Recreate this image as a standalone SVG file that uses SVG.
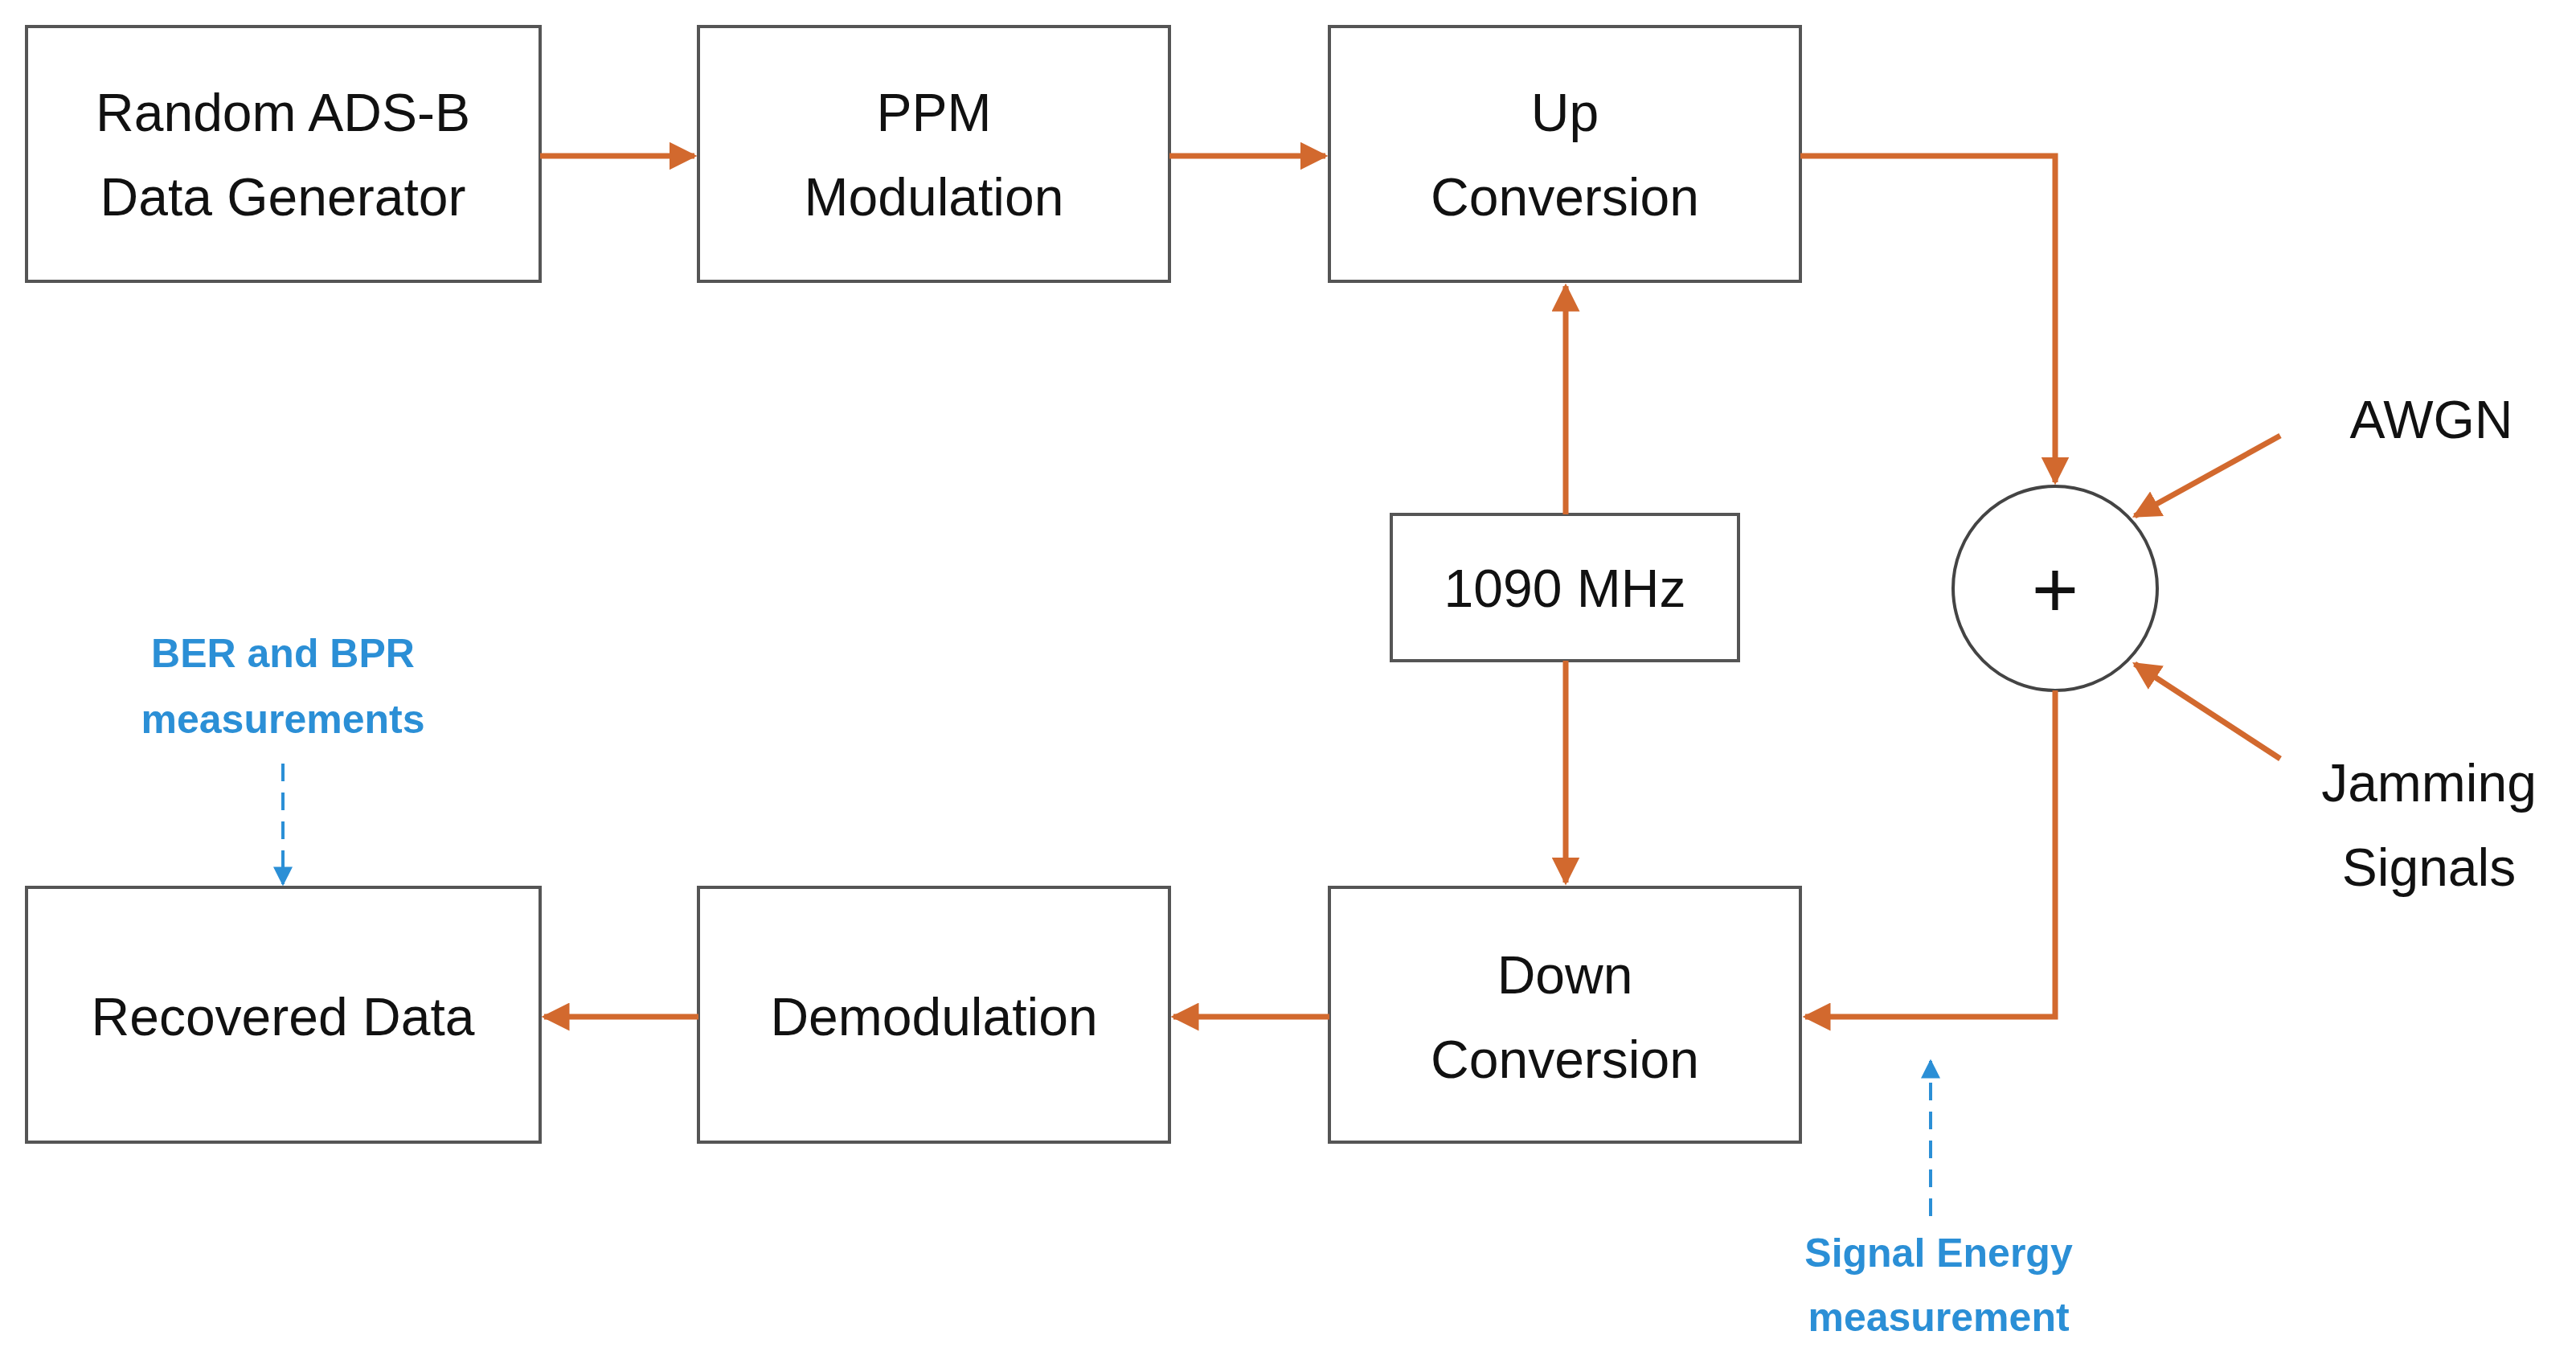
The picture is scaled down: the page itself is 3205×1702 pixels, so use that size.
<svg xmlns="http://www.w3.org/2000/svg" width="3205" height="1702" viewBox="0 0 3205 1702">
<style>
.box{fill:#fff;stroke:#555;stroke-width:4}
.t{font-family:"Liberation Sans",Arial,sans-serif;font-size:66px;fill:#111;text-anchor:middle}
.b{font-family:"Liberation Sans",Arial,sans-serif;font-size:50px;font-weight:bold;fill:#2b8fd6;text-anchor:middle}
.c{fill:none;stroke:#d2692e;stroke-width:7}
.d{fill:none;stroke:#2b8fd6;stroke-width:4;stroke-dasharray:22 14}
</style>
<defs>
<marker id="a" viewBox="0 0 10 10" refX="9" refY="5" markerWidth="5" markerHeight="5" orient="auto-start-reverse" markerUnits="strokeWidth"><path d="M0,0L10,5L0,10z" fill="#d2692e"/></marker>
<marker id="ab" viewBox="0 0 10 10" refX="9" refY="5" markerWidth="6" markerHeight="6" orient="auto" markerUnits="strokeWidth"><path d="M0,0L10,5L0,10z" fill="#2b8fd6"/></marker>
</defs>
<g id="n1"><rect class="box" x="33" y="33" width="639" height="317"/><text class="t" x="352" y="163">Random ADS-B</text><text class="t" x="352" y="268">Data Generator</text></g>
<g id="n2"><rect class="box" x="869" y="33" width="586" height="317"/><text class="t" x="1162" y="163">PPM</text><text class="t" x="1162" y="268">Modulation</text></g>
<g id="n3"><rect class="box" x="1654" y="33" width="586" height="317"/><text class="t" x="1947" y="163">Up</text><text class="t" x="1947" y="268">Conversion</text></g>
<g id="n4"><rect class="box" x="1731" y="640" width="432" height="182"/><text class="t" x="1947" y="755">1090 MHz</text></g>
<g id="n5"><circle cx="2557" cy="732" r="127" fill="#fff" stroke="#444" stroke-width="4"/><text x="2557" y="768" font-family="Liberation Sans,sans-serif" font-size="100" text-anchor="middle" fill="#111">+</text></g>
<g id="n6"><rect class="box" x="1654" y="1104" width="586" height="317"/><text class="t" x="1947" y="1236">Down</text><text class="t" x="1947" y="1341">Conversion</text></g>
<g id="n7"><rect class="box" x="869" y="1104" width="586" height="317"/><text class="t" x="1162" y="1288">Demodulation</text></g>
<g id="n8"><rect class="box" x="33" y="1104" width="639" height="317"/><text class="t" x="352" y="1288">Recovered Data</text></g>
<g id="l1"><text class="t" x="3025" y="545">AWGN</text></g>
<g id="l2"><text class="t" x="3022" y="997">Jamming</text><text class="t" x="3022" y="1102">Signals</text></g>
<g id="l3"><text class="b" x="352" y="830">BER and BPR</text><text class="b" x="352" y="912">measurements</text></g>
<g id="l4"><text class="b" x="2412" y="1576">Signal Energy</text><text class="b" x="2412" y="1656">measurement</text></g>
<g id="connectors">
<path class="c" d="M672,194H864" marker-end="url(#a)"/>
<path class="c" d="M1455,194H1649" marker-end="url(#a)"/>
<path class="c" d="M2240,194H2557V600" marker-end="url(#a)"/>
<path class="c" d="M1948,640V356" stroke-width="5" marker-end="url(#a)"/>
<path class="c" d="M1948,822V1098" stroke-width="5" marker-end="url(#a)"/>
<path class="c" d="M2837,542L2656,642" stroke-width="6" marker-end="url(#a)"/>
<path class="c" d="M2837,944L2656,826" stroke-width="6" marker-end="url(#a)"/>
<path class="c" d="M2557,859V1265H2246" marker-end="url(#a)"/>
<path class="c" d="M1654,1265H1460" marker-end="url(#a)"/>
<path class="c" d="M869,1265H677" marker-end="url(#a)"/>
<path class="d" d="M352,950V1100" marker-end="url(#ab)"/>
<path class="d" d="M2402,1513V1320" marker-end="url(#ab)"/>
</g>
</svg>
